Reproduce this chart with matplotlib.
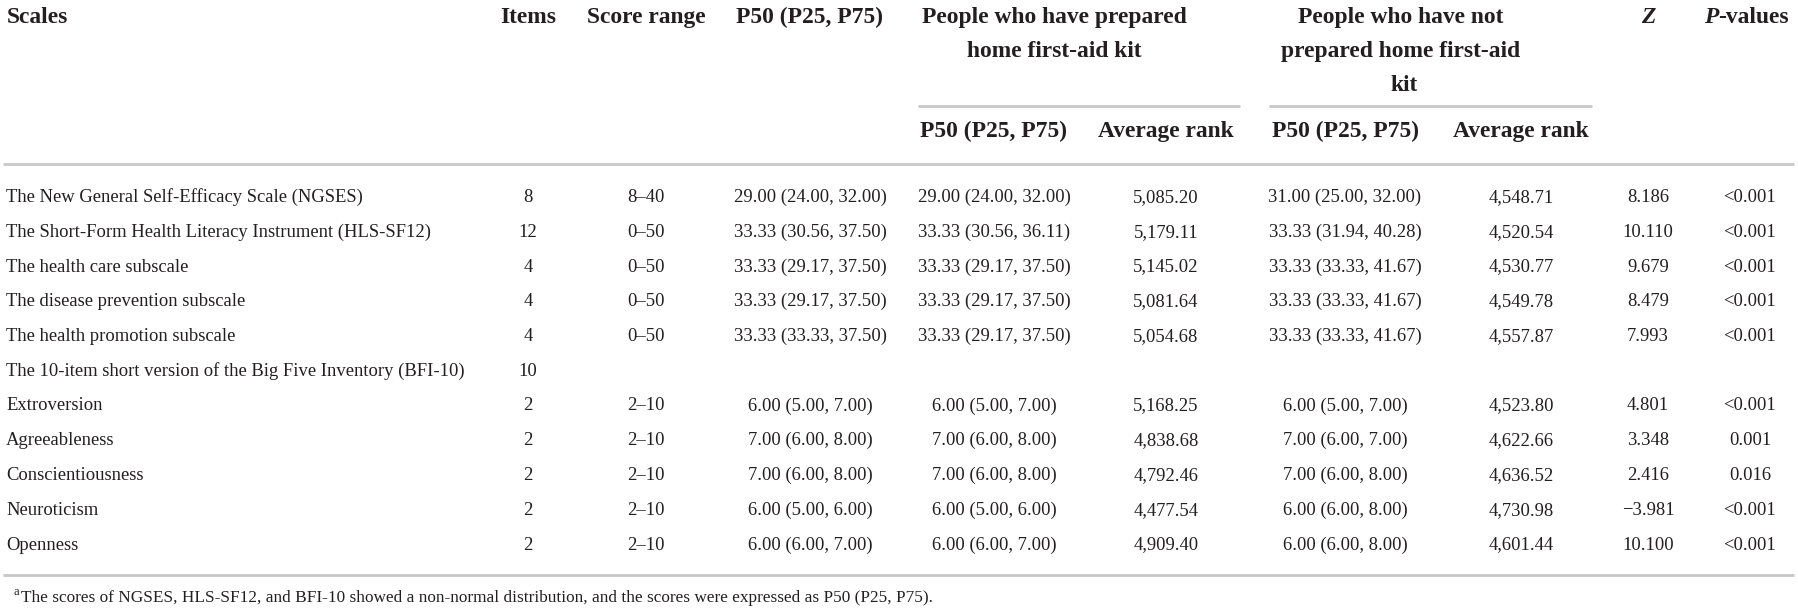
import matplotlib.pyplot as plt

# table content
scales = ['The New General Self-Efficacy Scale (NGSES)',
          'The Short-Form Health Literacy Instrument (HLS-SF12)',
          'The health care subscale',
          'The disease prevention subscale',
          'The health promotion subscale',
          'The 10-item short version of the Big Five Inventory (BFI-10)',
          'Extroversion', 'Agreeableness', 'Conscientiousness',
          'Neuroticism', 'Openness']
items = ['8', '12', '4', '4', '4', '10', '2', '2', '2', '2', '2']
score_range = ['8–40', '0–50', '0–50', '0–50', '0–50', '',
               '2–10', '2–10', '2–10', '2–10', '2–10']
p50_all = ['29.00 (24.00, 32.00)', '33.33 (30.56, 37.50)', '33.33 (29.17, 37.50)',
           '33.33 (29.17, 37.50)', '33.33 (33.33, 37.50)', '',
           '6.00 (5.00, 7.00)', '7.00 (6.00, 8.00)', '7.00 (6.00, 8.00)',
           '6.00 (5.00, 6.00)', '6.00 (6.00, 7.00)']
p50_yes = ['29.00 (24.00, 32.00)', '33.33 (30.56, 36.11)', '33.33 (29.17, 37.50)',
           '33.33 (29.17, 37.50)', '33.33 (29.17, 37.50)', '',
           '6.00 (5.00, 7.00)', '7.00 (6.00, 8.00)', '7.00 (6.00, 8.00)',
           '6.00 (5.00, 6.00)', '6.00 (6.00, 7.00)']
rank_yes = ['5,085.20', '5,179.11', '5,145.02', '5,081.64', '5,054.68', '',
            '5,168.25', '4,838.68', '4,792.46', '4,477.54', '4,909.40']
p50_no = ['31.00 (25.00, 32.00)', '33.33 (31.94, 40.28)', '33.33 (33.33, 41.67)',
          '33.33 (33.33, 41.67)', '33.33 (33.33, 41.67)', '',
          '6.00 (5.00, 7.00)', '7.00 (6.00, 7.00)', '7.00 (6.00, 8.00)',
          '6.00 (6.00, 8.00)', '6.00 (6.00, 8.00)']
rank_no = ['4,548.71', '4,520.54', '4,530.77', '4,549.78', '4,557.87', '',
           '4,523.80', '4,622.66', '4,636.52', '4,730.98', '4,601.44']
z_vals = ['8.186', '10.110', '9.679', '8.479', '7.993', '',
          '4.801', '3.348', '2.416', '\u22123.981', '10.100']
p_vals = ['<0.001', '<0.001', '<0.001', '<0.001', '<0.001', '',
          '<0.001', '0.001', '0.016', '<0.001', '<0.001']
footnote = ('The scores of NGSES, HLS-SF12, and BFI-10 showed a non-normal '
            'distribution, and the scores were expressed as P50 (P25, P75).')

W, H = 1798, 611
fig = plt.figure(figsize=(W / 100, H / 100), dpi=100)
ax = fig.add_axes([0, 0, 1, 1])
ax.set_xlim(0, W)
ax.set_ylim(H, 0)
ax.axis('off')

font = 'Liberation Serif'
body = 13.4
head = 16.9
ink = '#231f20'
rule = '#c8c8c8'

# column centres
col_x = [528, 646, 810, 994, 1166, 1345, 1521, 1648, 1750]
columns = [items, score_range, p50_all, p50_yes, rank_yes, p50_no, rank_no, z_vals, p_vals]

hd = dict(family=font, fontsize=head, fontweight='bold', color=ink, va='baseline')

# header
ax.text(7, 23, 'Scales', ha='left', **hd)
ax.text(col_x[0], 23, 'Items', ha='center', **hd)
ax.text(col_x[1], 23, 'Score range', ha='center', **hd)
ax.text(col_x[2], 23, 'P50 (P25, P75)', ha='center', **hd)
ax.text(1054, 23, 'People who have prepared', ha='center', **hd)
ax.text(1054, 57, 'home first-aid kit', ha='center', **hd)
ax.text(1401, 23, 'People who have not', ha='center', **hd)
ax.text(1401, 57, 'prepared home first-aid', ha='center', **hd)
ax.text(1404, 91, 'kit', ha='center', **hd)
ax.text(col_x[7], 23, 'Z', ha='center', style='italic', **hd)
ax.text(1718, 23, 'P', ha='right', style='italic', **hd)
ax.text(1718, 23, '-values', ha='left', **hd)

ax.plot([918, 1240], [106, 106], color=rule, lw=2, solid_capstyle='butt')
ax.plot([1269, 1592], [106, 106], color=rule, lw=2, solid_capstyle='butt')
for i, lab in zip([3, 4, 5, 6], ['P50 (P25, P75)', 'Average rank'] * 2):
    ax.text(col_x[i], 137, lab, ha='center', **hd)

ax.plot([3, 1794], [164, 164], color=rule, lw=2, solid_capstyle='butt')

# body rows
bd = dict(family=font, fontsize=body, color=ink, va='baseline')
row_y = [202 + 34.75 * k for k in range(len(scales))]
for k, y in enumerate(row_y):
    ax.text(6, y, scales[k], ha='left', **bd)
    for cx, vals in zip(col_x, columns):
        if vals[k]:
            ax.text(cx, y, vals[k], ha='center', **bd)

ax.plot([3, 1794], [575, 575], color=rule, lw=2, solid_capstyle='butt')

# footnote
ax.text(13, 595, 'a', ha='left', family=font, fontsize=9, color=ink, va='baseline')
ax.text(21, 602, footnote, ha='left', family=font, fontsize=12.4, color=ink, va='baseline')

fig.savefig('out.png', dpi=100, facecolor='white')
